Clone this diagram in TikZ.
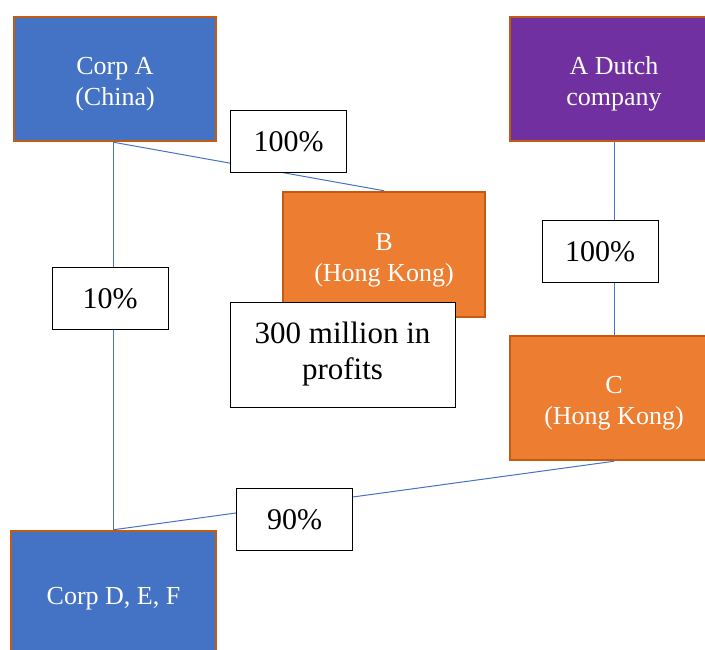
\documentclass[tikz,border=0pt]{standalone}
\usepackage{fontspec}
\setmainfont{Liberation Serif}
\usetikzlibrary{calc}
\definecolor{corpblue}{HTML}{4472C4}
\definecolor{corppurple}{HTML}{7030A0}
\definecolor{corporange}{HTML}{ED7D31}
\definecolor{edgebrown}{HTML}{C55A11}

\begin{document}
\begin{tikzpicture}[x=1pt,y=-1pt,
    firm/.style={draw=edgebrown,line width=2.5pt,text=white,align=center,
      font=\fontsize{26}{31}\selectfont,inner sep=0pt,text height=59pt,minimum height=124pt},
    share/.style={draw=black,fill=white,line width=0.9pt,align=center,
      font=\fontsize{30}{36}\selectfont,inner sep=0pt,minimum width=116pt,minimum height=62pt},
    link/.style={draw=corpblue,line width=1pt}]
    \clip (0,0) rectangle (705,650);

    % companies
    \node[firm,fill=corpblue,minimum width=202pt] (corpA) at (115,79) {Corp A\\(China)};
    \node[firm,fill=corppurple,minimum width=208pt] (dutch) at (614,79) {A Dutch\\company};
    \node[firm,fill=corporange,minimum width=202pt,minimum height=125pt] (hkB) at (384,254.5) {B\\(Hong Kong)};
    \node[firm,fill=corporange,minimum width=208pt] (hkC) at (614,398) {C\\(Hong Kong)};
    \node[firm,fill=corpblue,minimum width=205pt,text height=28pt] (corpD) at (113.5,593) {Corp D, E, F};
    \coordinate (forkA) at (corpD.north |- corpA.south);

    % ownership lines
    \draw[link] (forkA) -- (hkB.north);
    \draw[link] (forkA) -- (corpD.north);
    \draw[link] (dutch.south) -- (hkC.north);
    \draw[link] (hkC.south) -- (corpD.north);

    % shares
    \node[share] (shareB) at (288.5,141.5) {100\%};
    \node[share] (shareC) at (600,251.5) {100\%};
    \node[share] (shareD) at (110,298.5) {10\%};
    \node[share] (shareDC) at (294.5,519.5) {90\%};
    \node[share,minimum width=225pt,minimum height=105pt,font=\fontsize{31}{36}\selectfont]
      (profits) at (342.5,354.5) {300 million in\\profits};
\end{tikzpicture}
\end{document}
